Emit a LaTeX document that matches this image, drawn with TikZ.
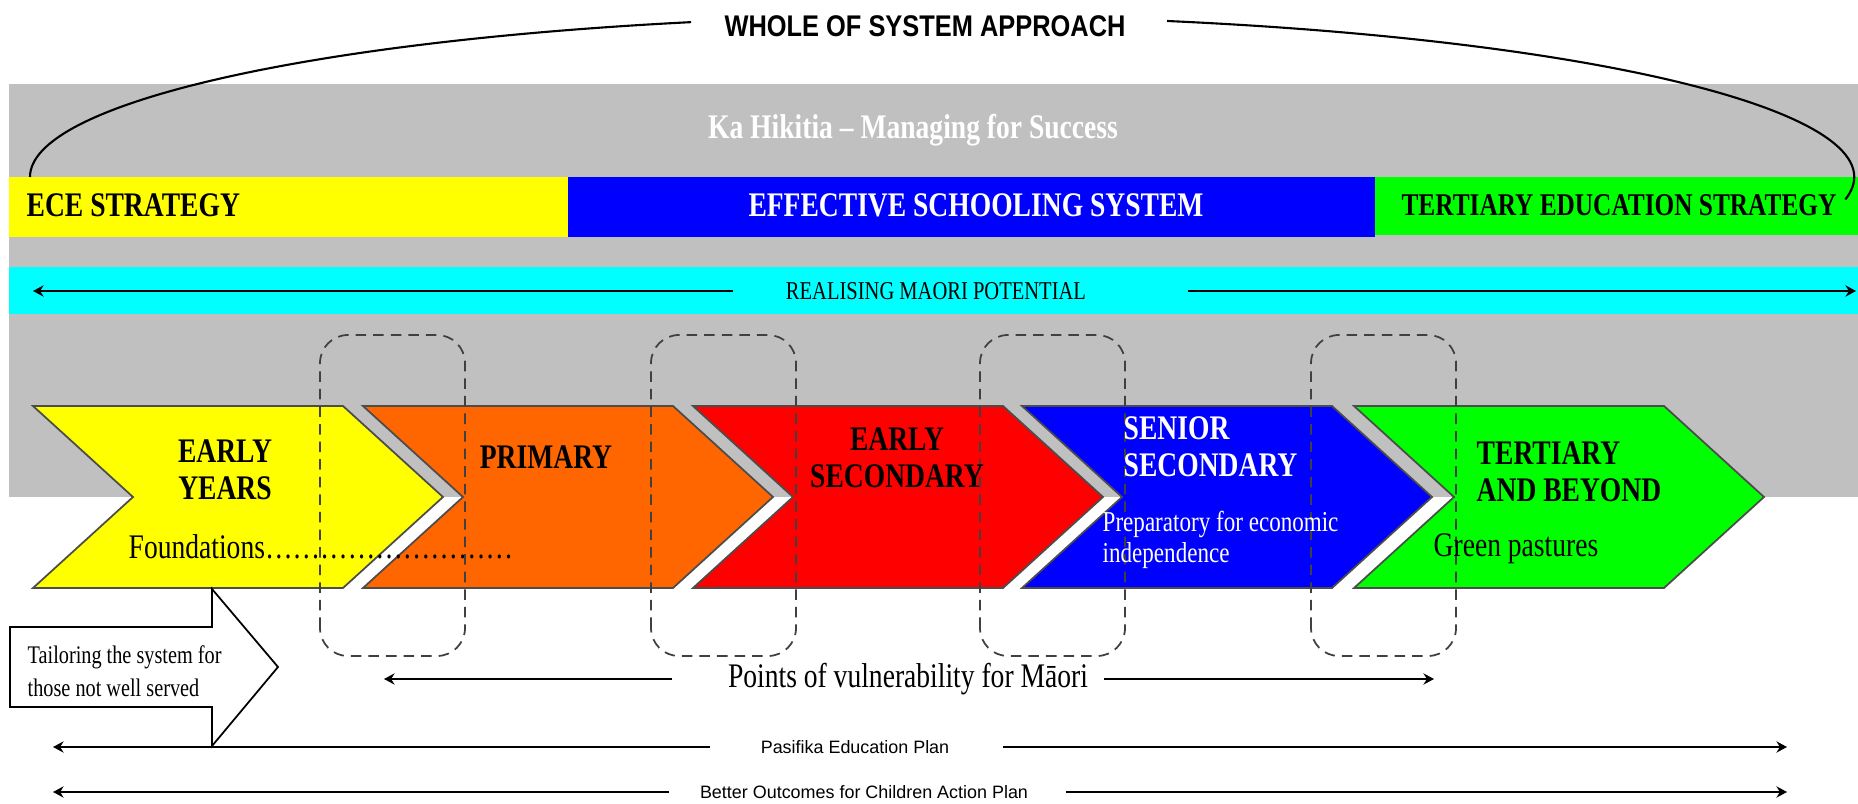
\documentclass[tikz,border=0pt]{standalone}
\usepackage{fontspec}
\setmainfont{Liberation Serif}
\setsansfont{Liberation Sans}
\newfontfamily\narrowserif{Liberation Serif}[FakeStretch=0.8]
\newfontfamily\narrowsans{Liberation Sans}[FakeStretch=0.85]
\usetikzlibrary{arrows.meta}

\definecolor{bandgray}{HTML}{C0C0C0}
\definecolor{ceyellow}{HTML}{FFFF00}
\definecolor{ceorange}{HTML}{FF6600}
\definecolor{cered}{HTML}{FF0000}
\definecolor{ceblue}{HTML}{0000FF}
\definecolor{cegreen}{HTML}{00FF00}
\definecolor{cecyan}{HTML}{00FFFF}

\tikzset{
  arr/.style={-{Stealth[length=3pt, width=3.2pt]}, line width=0.7pt},
  chev/.style={draw=black!70, line width=0.5pt},
  vulbox/.style={draw=black!75, dash pattern=on 3pt off 2pt, line width=0.5pt, rounded corners=0.28cm},
  head/.style={font={\narrowserif\bfseries\fontsize{9.8}{10.6}\selectfont}, inner sep=0pt, align=center},
  body/.style={font={\narrowserif\fontsize{9.8}{10.6}\selectfont}, inner sep=0pt},
  note/.style={font={\narrowserif\fontsize{8.2}{9}\selectfont}, inner sep=0pt, align=left},
  thin/.style={font={\narrowserif\fontsize{7.3}{8}\selectfont}, inner sep=0pt},
  small/.style={font={\narrowserif\fontsize{7.2}{9.4}\selectfont}, inner sep=0pt, align=left},
  plan/.style={font={\sffamily\fontsize{5.1}{6}\selectfont}, inner sep=0pt},
  title/.style={font={\narrowsans\bfseries\fontsize{8.5}{9}\selectfont}, inner sep=0pt}
}

\begin{document}
\begin{tikzpicture}[x=0.01cm, y=0.01cm]
  \useasboundingbox (0,0) rectangle (1858,803);
  % 底色带
  \fill[bandgray] (9,306) rectangle (1858,719);
  \fill[ceyellow] (9,566) rectangle (568,626);
  \fill[ceblue] (568,566) rectangle (1375,626);
  \fill[cegreen] (1375,568) rectangle (1858,626);
  \fill[cecyan] (9,489) rectangle (1858,536);

  \node[head, text=white] (kahi) at (913,673) {Ka Hikitia – Managing for Success};
  \node[head, anchor=west] (ece) at (26,598) {ECE STRATEGY};
  \node[head, text=white] (ess) at (976,598) {EFFECTIVE SCHOOLING SYSTEM};
  \node[head, font={\narrowserif\bfseries\fontsize{9}{10}\selectfont}] (tes) at (1619,598) {TERTIARY EDUCATION STRATEGY};

  \coordinate (rmpL) at (33,512);
  \coordinate (rmpR) at (1856,512);
  \node[thin] (rmp) at (936,512) {REALISING MAORI POTENTIAL};
  \draw[arr, shorten <=0.52cm] (rmp.west) -- (rmpL);
  \draw[arr, shorten <=1.01cm] (rmp.east) -- (rmpR);

  % 大括弧
  \coordinate (arcL) at (30,626);
  \coordinate (arcR) at (1167,782);
  \node[title] (wsa) at (925,777) {WHOLE OF SYSTEM APPROACH};
  \draw[line width=0.6pt] (arcL) arc[start angle=180, end angle=106, x radius=9.12cm, y radius=1.61cm];
  \draw[line width=0.6pt] (arcR) arc[start angle=75.7, end angle=-8, x radius=9.12cm, y radius=1.61cm];

  % 五个阶段
  \foreach \x/\col in {33/ceyellow, 363/ceorange, 693/cered, 1022/ceblue, 1354/cegreen}
    \filldraw[chev, fill=\col] (\x,397) -- ++(310,0) -- ++(100,-91) -- ++(-100,-91)
      -- ++(-310,0) -- ++(100,91) -- cycle;

  \foreach \x in {320,651,980,1311}
    \draw[vulbox] (\x,147) rectangle ++(145,321);

  \node[head] (early) at (225,333) {EARLY\\YEARS};
  \node[body, anchor=west] (found) at (128,256) {Foundations………………………};
  \node[head] (primary) at (546,346) {PRIMARY};
  \node[head] (earlysec) at (897,345) {EARLY\\SECONDARY};
  \node[head, text=white, align=left, anchor=west] (senior) at (1123,356) {SENIOR\\SECONDARY};
  \node[note, text=white, anchor=west] (prep) at (1102,263) {Preparatory for economic\\independence};
  \node[head, align=left, anchor=west] (tertiary) at (1476,331) {TERTIARY\\AND BEYOND};
  \node[body, anchor=west] (pasture) at (1433,254) {Green pastures};

  % 箭头框
  \draw[line width=0.5pt, fill=white] (10,176) -- (212,176) -- (212,214) -- (278,136)
    -- (212,57) -- (212,96) -- (10,96) -- cycle;
  \node[small, anchor=west] (tailor) at (27,132) {Tailoring the system for\\those not well served};

  \coordinate (vulL) at (384,124);
  \coordinate (vulR) at (1434,124);
  \node[body] (vul) at (908,124) {Points of vulnerability for Māori};
  \draw[arr, shorten <=0.55cm] (vul.west) -- (vulL);
  \draw[arr, shorten <=0.15cm] (vul.east) -- (vulR);

  \coordinate (pepL) at (53,56);
  \coordinate (pepR) at (1787,56);
  \node[plan] (pep) at (855,56) {Pasifika Education Plan};
  \draw[arr, shorten <=0.5cm] (pep.west) -- (pepL);
  \draw[arr, shorten <=0.53cm] (pep.east) -- (pepR);

  \coordinate (bocL) at (53,11);
  \coordinate (bocR) at (1787,11);
  \node[plan] (boc) at (864,11) {Better Outcomes for Children Action Plan};
  \draw[arr, shorten <=0.3cm] (boc.west) -- (bocL);
  \draw[arr, shorten <=0.37cm] (boc.east) -- (bocR);
\end{tikzpicture}
\end{document}
